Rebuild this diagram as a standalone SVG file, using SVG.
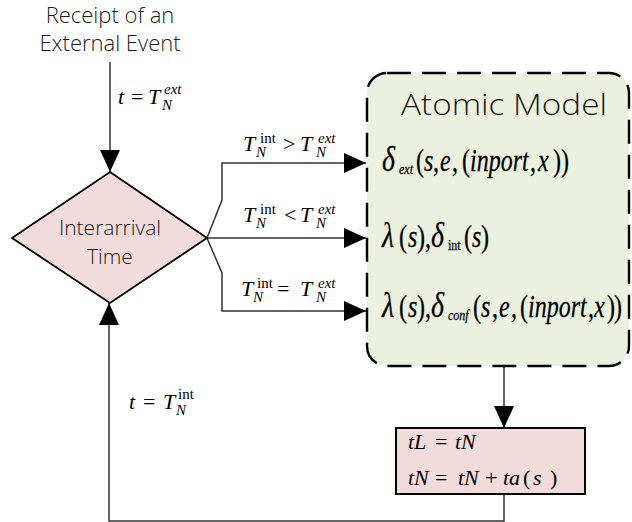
<svg xmlns="http://www.w3.org/2000/svg" width="632" height="522" viewBox="0 0 632 522">
<defs>
<marker id="ah" viewBox="0 0 22 20" refX="22" refY="10" markerWidth="22" markerHeight="20" markerUnits="userSpaceOnUse" orient="auto"><path d="M0,0 L22,10 L0,20 Z" fill="#000"/></marker>
</defs>
<style>
.lbl{font-family:"Open Sans","Noto Sans",sans-serif;font-weight:300;fill:#1a1a1a}
.m{font-family:"Liberation Serif","Times New Roman","DejaVu Serif",serif;font-style:italic;fill:#000;font-size:22px}
.b{font-size:24px;stroke:#000;stroke-width:0.2}
.g{font-size:28px}
.r{font-style:normal}
.s{font-size:15px}
.t{font-size:12px}
.c{fill:none;stroke:#333;stroke-width:1.5}
</style>
<g id="start">
<text class="lbl" x="110" y="23" font-size="22" text-anchor="middle">Receipt of an</text>
<text class="lbl" x="110" y="51" font-size="22" text-anchor="middle">External Event</text>
</g>
<g id="connectors">
<path class="c" d="M110,62 V172" marker-end="url(#ah)"/>
<path class="c" d="M207,238 L222,200 V163 H366" marker-end="url(#ah)"/>
<path class="c" d="M207,238 H366" marker-end="url(#ah)"/>
<path class="c" d="M207,238 L222,273 V311 H366" marker-end="url(#ah)"/>
<path class="c" d="M504,366 V428" marker-end="url(#ah)"/>
<path class="c" d="M504,494 V521 H109 V303" marker-end="url(#ah)"/>
<text class="m"><tspan x="118" y="104">t</tspan><tspan class="r" x="131" y="104">=</tspan><tspan x="148" y="104">T</tspan><tspan class="s" x="164" y="94">ext</tspan><tspan class="s" x="162" y="110">N</tspan></text>
<text class="m"><tspan x="243" y="151">T</tspan><tspan class="r s" x="260" y="143">int</tspan><tspan class="s" x="256" y="157">N</tspan><tspan class="r" x="283" y="151">&gt;</tspan><tspan x="300" y="151">T</tspan><tspan class="s" x="318" y="143">ext</tspan><tspan class="s" x="316" y="157">N</tspan></text>
<text class="m"><tspan x="243" y="222">T</tspan><tspan class="r s" x="260" y="214">int</tspan><tspan class="s" x="256" y="228">N</tspan><tspan class="r" x="284" y="222">&lt;</tspan><tspan x="300" y="222">T</tspan><tspan class="s" x="318" y="214">ext</tspan><tspan class="s" x="316" y="228">N</tspan></text>
<text class="m"><tspan x="241" y="296">T</tspan><tspan class="r s" x="257" y="288">int</tspan><tspan class="s" x="253" y="302">N</tspan><tspan class="r" x="277" y="296">=</tspan><tspan x="300" y="296">T</tspan><tspan class="s" x="318" y="288">ext</tspan><tspan class="s" x="316" y="302">N</tspan></text>
<text class="m"><tspan x="129" y="409">t</tspan><tspan class="r" x="143" y="409">=</tspan><tspan x="163" y="409">T</tspan><tspan class="r s" x="178" y="399">int</tspan><tspan class="s" x="176" y="415">N</tspan></text>
</g>
<g id="interarrival">
<path d="M110,172 L207,238 L110,303 L12,238 Z" fill="#f2dcdb" stroke="#000" stroke-width="1.8"/>
<text class="lbl" x="110" y="235" font-size="21" text-anchor="middle">Interarrival</text>
<text class="lbl" x="110" y="264" font-size="21" text-anchor="middle">Time</text>
</g>
<g id="atomic">
<rect x="367" y="73" width="262" height="293" rx="20" fill="#ebf1de" stroke="#000" stroke-width="2.4" stroke-dasharray="24,11"/>
<text class="lbl" x="504" y="115" font-size="30" text-anchor="middle" textLength="206" lengthAdjust="spacingAndGlyphs">Atomic Model</text>
<text class="m b" transform="translate(0,171) scale(1,1.3)"><tspan class="g" x="382" y="0">δ</tspan><tspan class="t" x="399" y="2">ext</tspan><tspan class="r" x="416" y="0">(</tspan><tspan x="424" y="0">s</tspan><tspan class="r" x="433" y="0">,</tspan><tspan x="440" y="0">e</tspan><tspan class="r" x="452" y="0">,</tspan><tspan class="r" x="462" y="0">(</tspan><tspan x="470" y="0">inport</tspan><tspan class="r" x="530" y="0">,</tspan><tspan x="538" y="0">x</tspan><tspan class="r" x="553" y="0">))</tspan></text>
<text class="m b" transform="translate(0,247) scale(1,1.3)"><tspan class="g" x="382" y="0">λ</tspan><tspan class="r" x="399" y="0">(</tspan><tspan x="408" y="0">s</tspan><tspan class="r" x="417" y="0">)</tspan><tspan class="r" x="425" y="0">,</tspan><tspan class="g" x="431" y="0">δ</tspan><tspan class="r t" x="448" y="2">int</tspan><tspan class="r" x="464" y="0">(</tspan><tspan x="472" y="0">s</tspan><tspan class="r" x="481" y="0">)</tspan></text>
<text class="m b" transform="translate(0,317) scale(1,1.3)"><tspan class="g" x="382" y="0">λ</tspan><tspan class="r" x="399" y="0">(</tspan><tspan x="408" y="0">s</tspan><tspan class="r" x="417" y="0">)</tspan><tspan class="r" x="425" y="0">,</tspan><tspan class="g" x="431" y="0">δ</tspan><tspan class="t" x="448" y="2">conf</tspan><tspan class="r" x="473" y="0">(</tspan><tspan x="481" y="0">s</tspan><tspan class="r" x="492" y="0">,</tspan><tspan x="499" y="0">e</tspan><tspan class="r" x="511" y="0">,</tspan><tspan class="r" x="520" y="0">(</tspan><tspan x="528" y="0">inport</tspan><tspan class="r" x="588" y="0">,</tspan><tspan x="594" y="0">x</tspan><tspan class="r" x="607" y="0" letter-spacing="-1">))</tspan></text>
</g>
<g id="update">
<rect x="396" y="428" width="189" height="66" fill="#f2dcdb" stroke="#000" stroke-width="2"/>
<text class="m"><tspan x="408" y="449">tL</tspan><tspan class="r" x="435" y="449">=</tspan><tspan x="455" y="449">tN</tspan></text>
<text class="m"><tspan x="408" y="485">tN</tspan><tspan class="r" x="435" y="485">=</tspan><tspan x="458" y="485">tN</tspan><tspan class="r" x="485" y="485">+</tspan><tspan x="503" y="485">ta</tspan><tspan class="r" x="523" y="485">(</tspan><tspan x="533" y="485">s</tspan><tspan class="r" x="550" y="485">)</tspan></text>
</g>
</svg>
